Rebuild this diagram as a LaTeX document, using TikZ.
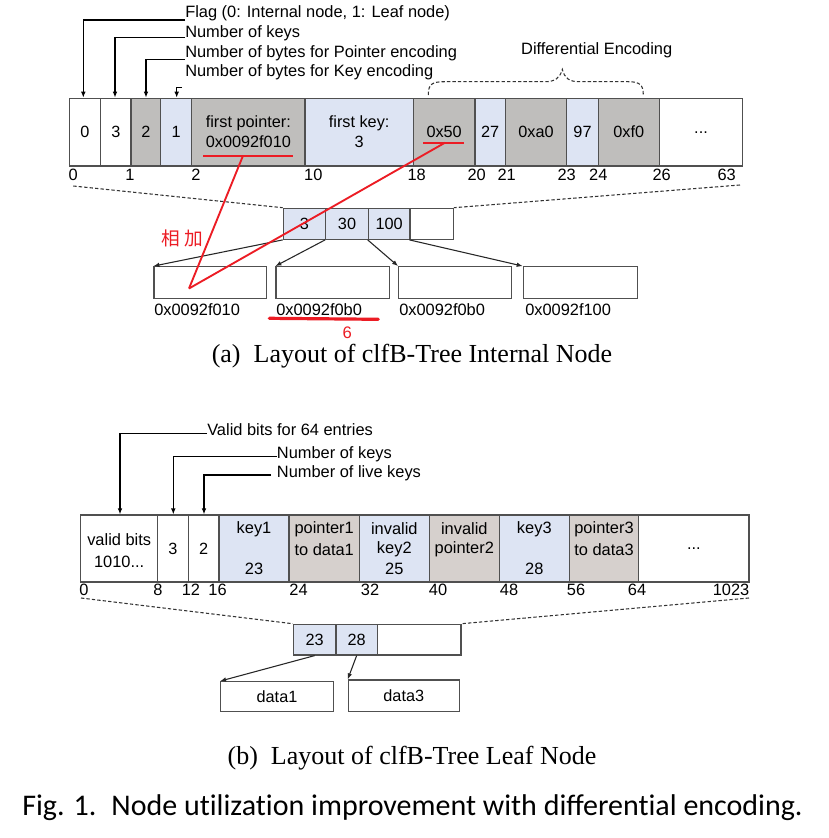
\documentclass[tikz,border=0pt]{standalone}
\usepackage{fontspec}
\setmainfont{Liberation Sans}
\newfontfamily\capfont{Liberation Serif}
\newfontfamily\figfont{Carlito}
\newfontfamily\cjk{Noto Sans CJK SC}
\usetikzlibrary{arrows.meta}
\definecolor{cgray}{RGB}{191,190,188}
\definecolor{lgray}{RGB}{214,208,205}
\definecolor{cblue}{RGB}{221,228,243}
\definecolor{edge}{RGB}{80,80,80}
\definecolor{redmark}{RGB}{236,28,36}
\newcommand\mkcell[7]{\node[cell,fill=#6,minimum width={(#3-#2)*0.75pt},minimum height={(#5-#4)*0.75pt}] (#1) at ({(#2+#3)/2},{(#4+#5)/2}) {#7};}
\begin{document}
\begin{tikzpicture}[x=0.75pt,y=-0.75pt,
  cell/.style={draw=edge,line width=0.9pt,inner sep=0pt,font=\fontsize{12.2}{15}\selectfont,align=center},
  lab/.style={inner sep=0pt,font=\fontsize{12.3}{15}\selectfont,align=center},
  ann/.style={draw=black,line width=0.9pt,-{Latex[length=4.5pt,width=3.5pt]}},
  arr/.style={draw=black!85,line width=0.8pt,-{Latex[length=4.5pt,width=3.5pt]}},
  dashln/.style={draw=black!80,line width=0.8pt,dash pattern=on 2.5pt off 1.6pt},
  redl/.style={draw=redmark,line width=1.4pt},
  redu/.style={draw=redmark,line width=2.4pt},
  captxt/.style={inner sep=0pt,font=\capfont\fontsize{19.5}{22}\selectfont}]
\useasboundingbox[fill=white] (0,0) rectangle (828,838);

% ---------- (a) internal node ----------
\mkcell{c0}{69.3}{100.7}{98.3}{166}{white}{0}
\mkcell{c1}{100.7}{131}{98.3}{166}{white}{3}
\mkcell{c2}{131}{160.7}{98.3}{166}{cgray}{2}
\mkcell{c3}{160.7}{191.7}{98.3}{166}{cblue}{1}
\mkcell{c4}{191.7}{305}{98.3}{166}{cgray}{first pointer:\\0x0092f010}
\mkcell{c5}{305}{413.3}{98.3}{166}{cblue}{first key:\\3}
\mkcell{c6}{413.3}{475}{98.3}{166}{cgray}{0x50}
\mkcell{c7}{475}{505.3}{98.3}{166}{cblue}{27}
\mkcell{c8}{505.3}{566.7}{98.3}{166}{cgray}{0xa0}
\mkcell{c9}{566.7}{598.3}{98.3}{166}{cblue}{97}
\mkcell{c10}{598.3}{659.3}{98.3}{166}{cgray}{0xf0}
\mkcell{c11}{659.3}{742.7}{98.3}{166}{white}{...}

% annotations
\node[lab,anchor=west] (tflag) at (185,13) {Flag (0: Internal node, 1: Leaf node)};
\node[lab,anchor=west] (tnk) at (185,33) {Number of keys};
\node[lab,anchor=west] (tptr) at (185,53) {Number of bytes for Pointer encoding};
\node[lab,anchor=west] (tkey) at (185,72.5) {Number of bytes for Key encoding};
\coordinate (f1) at (83.3,20);
\coordinate (f2) at (115,37.3);
\coordinate (f3) at (146,59.3);
\coordinate (f4) at (176.7,87.3);
\coordinate (f4e) at (182,87.3);
\draw[ann] (tflag.west |- f1) -- (f1) -- (f1 |- c0.north);
\draw[ann] (tnk.west |- f2) -- (f2) -- (f2 |- c1.north);
\draw[ann] (tptr.west |- f3) -- (f3) -- (f3 |- c2.north);
\draw[ann] (f4e) -- (f4) -- (f4 |- c3.north);

% differential encoding brace
\node[lab] (tdiff) at (596.7,50) {Differential Encoding};
\coordinate (bL) at (428.3,95);
\coordinate (bT) at (562.3,69.3);
\coordinate (bR) at (643.3,95);
\draw[dashln] (bL) .. controls (428.3,84) and (432,81.7) .. (445,81.7) -- (545,81.7)
  .. controls (555,81.7) and (560,78) .. (bT)
  .. controls (564.5,78) and (569,81.7) .. (579,81.7) -- (628,81.7)
  .. controls (640,81.7) and (643.3,85) .. (bR);

% position labels
\node[lab] (p0) at (73.3,175) {0};
\node[lab] (p1) at (130,175) {1};
\node[lab] (p2) at (196,175) {2};
\node[lab] (p10) at (313.3,175) {10};
\node[lab] (p18) at (416.7,175) {18};
\node[lab] (p20) at (476.7,175) {20};
\node[lab] (p21) at (506.7,175) {21};
\node[lab] (p23) at (566.7,175) {23};
\node[lab] (p24) at (598.3,175) {24};
\node[lab] (p26) at (661.7,175) {26};
\node[lab] (p63) at (726.7,175) {63};

% small key box
\mkcell{s1}{283.3}{325.7}{208.3}{239.3}{cblue}{3}
\mkcell{s2}{325.7}{368.3}{208.3}{239.3}{cblue}{30}
\mkcell{s3}{368.3}{410}{208.3}{239.3}{cblue}{100}
\mkcell{s4}{410}{453.3}{208.3}{239.3}{white}{}
\coordinate (dl) at (73.3,186);
\coordinate (dr) at (740,185);
\draw[dashln] (dl) -- (s1.north west);
\draw[dashln] (dr) -- (s4.north east);

% children
\mkcell{k1}{154}{266.7}{266.7}{298.3}{white}{}
\mkcell{k2}{276}{389.3}{266.7}{298.3}{white}{}
\mkcell{k3}{398.7}{511.7}{266.7}{298.3}{white}{}
\mkcell{k4}{523.3}{637.7}{266.7}{298.3}{white}{}
\draw[arr] (s1.south west) -- (k1.north west);
\draw[arr] (s2.south west) -- (k2.north west);
\draw[arr] (s3.south west) -- (k3.north west);
\draw[arr] (s4.south west) -- (k4.north west);
\node[lab,anchor=west] (kl1) at (154,310) {0x0092f010};
\node[lab,anchor=west] (kl2) at (276,310) {0x0092f0b0};
\node[lab,anchor=west] (kl3) at (399,310) {0x0092f0b0};
\node[lab,anchor=west] (kl4) at (525,310) {0x0092f100};

% red annotations
\coordinate (ru1a) at (203.3,155.7);
\coordinate (ru1b) at (293.3,155.7);
\coordinate (ru2a) at (423.3,142.7);
\coordinate (ru2b) at (464.3,142.7);
\coordinate (ru3a) at (269.3,318.3);
\coordinate (ru3b) at (378.3,319.3);
\coordinate (rs1) at (242.7,156.5);
\coordinate (rs2) at (445,142.7);
\coordinate (rtip) at (189,288.5);
\draw[redl] (ru1a) -- (ru1b);
\draw[redl] (ru2a) -- (ru2b);
\draw[redu,line cap=round] (ru3a) -- (ru3b);
\draw[redl] (rs1) -- (rtip);
\draw[redl] (rs2) -- (rtip);
\node[inner sep=0pt,text=redmark,font=\cjk\fontsize{14}{16}\selectfont] (tadd) at (182.5,238.3) {相\hspace{3pt}加};
\node[inner sep=0pt,text=redmark,font=\fontsize{12.5}{14}\selectfont] (tsix) at (347.3,333) {6};

\node[captxt] (capa) at (412,356) {(a)\enspace Layout of clfB-Tree Internal Node};

% ---------- (b) leaf node ----------
\mkcell{l0}{80.7}{157.7}{515}{582}{white}{}
\mkcell{l1}{157.7}{188.3}{515}{582}{white}{3}
\mkcell{l2}{188.3}{219}{515}{582}{white}{2}
\mkcell{l3}{219}{289}{515}{582}{cblue}{}
\mkcell{l4}{289}{359.3}{515}{582}{lgray}{}
\mkcell{l5}{359.3}{429.3}{515}{582}{cblue}{}
\mkcell{l6}{429.3}{499.3}{515}{582}{lgray}{}
\mkcell{l7}{499.3}{569.3}{515}{582}{cblue}{}
\mkcell{l8}{569.3}{638.7}{515}{582}{lgray}{}
\mkcell{l9}{638.7}{749}{515}{582}{white}{...}

\node[lab] (v1) at (119.2,539.3) {valid bits};
\node[lab] (v2) at (119.2,561.7) {1010...};
\node[lab] (k1a) at (254,529) {key1};
\node[lab] (k1b) at (254,569) {23};
\node[lab] (p1a) at (324.2,529) {pointer1};
\node[lab] (p1b) at (324.2,549.5) {to data1};
\node[lab] (i2a) at (394.3,529) {invalid};
\node[lab] (i2b) at (394.3,549.5) {key2};
\node[lab] (i2c) at (394.3,569) {25};
\node[lab] (i3a) at (464.3,529) {invalid};
\node[lab] (i3b) at (464.3,549.5) {pointer2};
\node[lab] (k3a) at (534.3,529) {key3};
\node[lab] (k3b) at (534.3,569) {28};
\node[lab] (p3a) at (604,529) {pointer3};
\node[lab] (p3b) at (604,549.5) {to data3};

\node[lab,anchor=west] (tvb) at (207,430) {Valid bits for 64 entries};
\node[lab,anchor=west] (tnk2) at (276.7,454.3) {Number of keys};
\node[lab,anchor=west] (tlk) at (276.7,473.3) {Number of live keys};
\coordinate (g1) at (120,433.3);
\coordinate (g2) at (173.3,456.7);
\coordinate (g3) at (204,475);
\coordinate (g3e) at (271,475);
\draw[ann] (tvb.west |- g1) -- (g1) -- (g1 |- l0.north);
\draw[ann] (tnk2.west |- g2) -- (g2) -- (g2 |- l1.north);
\draw[ann] (g3e) -- (g3) -- (g3 |- l2.north);

\node[lab] (q0) at (84,590) {0};
\node[lab] (q8) at (158,590) {8};
\node[lab] (q12) at (191,590) {12};
\node[lab] (q16) at (217.5,590) {16};
\node[lab] (q24) at (298.5,590) {24};
\node[lab] (q32) at (370,590) {32};
\node[lab] (q40) at (438,590) {40};
\node[lab] (q48) at (509,590) {48};
\node[lab] (q56) at (576,590) {56};
\node[lab] (q64) at (637,590) {64};
\node[lab] (q1023) at (731,590) {1023};

\mkcell{m1}{293.3}{336}{624.3}{655}{cblue}{23}
\mkcell{m2}{336}{377.3}{624.3}{655}{cblue}{28}
\mkcell{m3}{377.3}{461}{624.3}{655}{white}{}
\coordinate (el) at (81,598);
\coordinate (er) at (749,598);
\draw[dashln] (el) -- (m1.north west);
\draw[dashln] (er) -- (m3.north east);

\mkcell{d1}{220.7}{333.3}{681.7}{711.7}{white}{data1}
\mkcell{d3}{348.3}{459.3}{680}{711.7}{white}{data3}
\draw[arr] (m1.south) -- (d1.north west);
\draw[arr] (m2.south) -- (d3.north west);

\node[captxt] (capb) at (412,758) {(b)\enspace Layout of clfB-Tree Leaf Node};
\node[inner sep=0pt,font=\figfont\fontsize{22.5}{26}\selectfont] (capf) at (412.5,808) {Fig. 1.\enspace Node ut\kern0pt ilizat\kern0pt ion improvement with different\kern0pt ial encoding.};
\end{tikzpicture}
\end{document}
